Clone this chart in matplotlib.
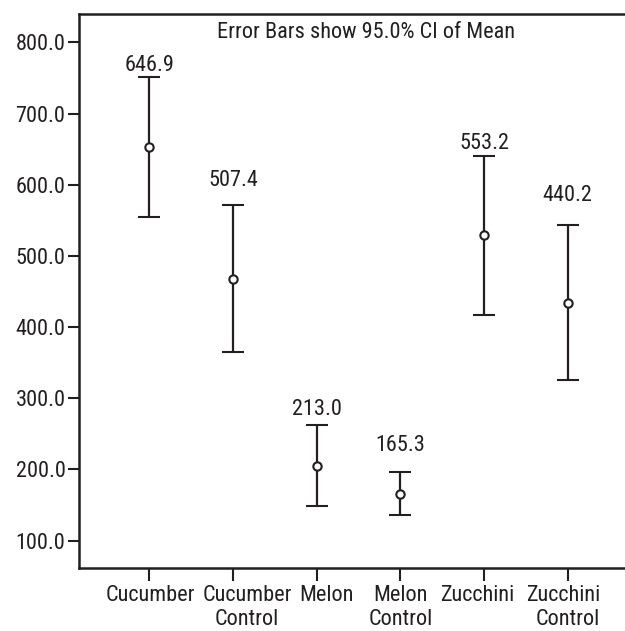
import matplotlib
matplotlib.use("Agg")
import matplotlib.pyplot as plt
from matplotlib import font_manager
import numpy as np

categories = ["Cucumber", "Cucumber\nControl", "Melon", "Melon\nControl",
              "Zucchini", "Zucchini\nControl"]
means = [653, 468, 205, 165, 529, 434]
ci_low = [555, 365, 148, 136, 417, 325]
ci_high = [752, 572, 262, 196, 640, 544]
value_labels = ["646.9", "507.4", "213.0", "165.3", "553.2", "440.2"]
value_label_y = [768, 606, 284, 234, 658, 585]
y_ticks = [100, 200, 300, 400, 500, 600, 700, 800]

# pick a narrow face if one is around, else plain Liberation Sans
font_name, font_size = 'Liberation Sans', 14
for name, size in [('Liberation Sans Narrow', 16.5), ('Roboto Condensed', 16), ('DejaVu Sans Condensed', 14)]:
    try:
        font_manager.findfont(name, fallback_to_default=False)
        font_name, font_size = name, size
        break
    except Exception:
        pass
plt.rcParams['font.family'] = [font_name, 'Liberation Sans', 'DejaVu Sans']
ink = '#231f20'

fig = plt.figure(figsize=(6.25, 6.31), dpi=100)
ax = fig.add_axes([79.3 / 625, 1 - 568.3 / 631, 1 - 79.3 / 625, (568.3 - 14) / 631])

x = np.arange(len(categories))
means = np.array(means)
err = np.array([means - np.array(ci_low), np.array(ci_high) - means])

ax.errorbar(x, means, yerr=err, fmt='o', color=ink, ecolor=ink, elinewidth=1.6,
            capsize=8, capthick=1.8, markersize=6, markerfacecolor='white',
            markeredgecolor=ink, markeredgewidth=1.5, zorder=3)

for xi, txt, yl in zip(x, value_labels, value_label_y):
    ax.text(xi, yl, txt, ha='center', va='center', fontsize=font_size, color=ink)

ax.set_xlim(-0.836, 5.685)
ax.set_ylim(61, 840)
ax.set_yticks(y_ticks)
ax.set_yticklabels([f"{v:.1f}" for v in y_ticks])
ax.set_xticks(x)
ax.set_xticklabels([])

# category names, nudged sideways like the original so they don't collide
nudge_px = [1, 14, 10, 0, -7, -5]
for xi, cat, dx in zip(x, categories, nudge_px):
    ax.annotate(cat, xy=(xi, 0), xycoords=('data', 'axes fraction'),
                xytext=(dx, -17), textcoords='offset pixels',
                ha='center', va='top', fontsize=font_size, color=ink,
                linespacing=1.15,
                multialignment='right' if cat.startswith('Zucchini\n') else 'center',
                annotation_clip=False)

ax.spines['right'].set_visible(False)
for s in ['left', 'bottom', 'top']:
    ax.spines[s].set_linewidth(1.8)
    ax.spines[s].set_color(ink)

ax.tick_params(axis='y', length=8, width=1.5, colors=ink, labelsize=font_size, pad=2)
ax.tick_params(axis='x', length=9, width=1.5, colors=ink)

fig.text(366 / 625, 1 - 32 / 631, "Error Bars show 95.0% CI of Mean",
         ha='center', va='center', fontsize=font_size, color=ink)

fig.savefig("out.png", dpi=100)
